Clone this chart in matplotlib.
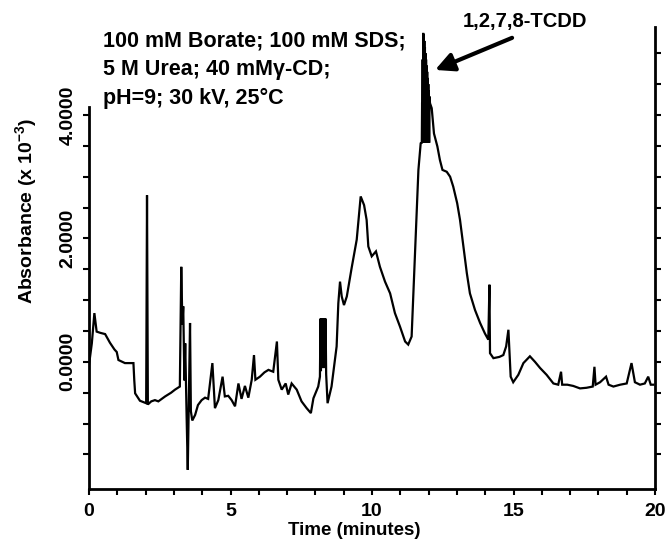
import numpy as np
import matplotlib
matplotlib.use("Agg")
import matplotlib.pyplot as plt

matplotlib.rc('font', family='Liberation Sans', weight='bold')
matplotlib.rcParams.update({'mathtext.fontset': 'custom',
                            'mathtext.bf': 'Liberation Sans:bold',
                            'mathtext.rm': 'Liberation Sans:bold',
                            'mathtext.default': 'bf'})

# electropherogram trace (time in min, absorbance x 1e-3)
time = [0.00, 0.10, 0.19, 0.27, 0.40, 0.57, 0.74, 0.90, 0.98, 1.04,
        1.27, 1.57, 1.60, 1.63, 1.80, 2.02, 2.05, 2.08, 2.20, 2.33,
        2.45, 2.69, 2.90, 3.04, 3.21, 3.26, 3.30, 3.33, 3.37, 3.40,
        3.45, 3.49, 3.53, 3.57, 3.60, 3.65, 3.75, 3.85, 3.98, 4.10,
        4.21, 4.36, 4.45, 4.57, 4.72, 4.80, 4.92, 5.04, 5.16, 5.28,
        5.39, 5.51, 5.63, 5.75, 5.83, 5.88, 6.04, 6.20, 6.34, 6.51,
        6.64, 6.69, 6.81, 6.95, 7.04, 7.16, 7.34, 7.51, 7.69, 7.84,
        7.93, 8.10, 8.16,
        8.180, 8.195, 8.210, 8.225, 8.240, 8.255, 8.270, 8.285, 8.300,
        8.315, 8.330, 8.345, 8.360, 8.380,
        8.43, 8.57, 8.75, 8.81, 8.87, 8.93, 9.01, 9.11, 9.28,
        9.46, 9.60, 9.72, 9.81, 9.87, 9.99, 10.14, 10.28, 10.46, 10.64,
        10.81, 10.99, 11.17, 11.28, 11.40, 11.52, 11.64, 11.72,
        11.76, 11.77, 11.78, 11.79, 11.80, 11.81, 11.82, 11.83, 11.84,
        11.85, 11.86, 11.87, 11.88, 11.89, 11.90, 11.91, 11.92, 11.93,
        11.94, 11.95, 11.96, 11.97, 11.98, 11.99, 12.00, 12.01, 12.02,
        12.03, 12.05, 12.11, 12.19, 12.31, 12.40,
        12.49, 12.64, 12.76, 12.87, 13.01, 13.11, 13.23, 13.35, 13.46,
        13.64, 13.82, 13.99, 14.11, 14.15, 14.17, 14.29, 14.50, 14.64,
        14.74, 14.82, 14.90, 14.99, 15.17, 15.35, 15.58, 15.76, 15.94,
        16.17, 16.41, 16.58, 16.68, 16.72, 16.90, 17.11, 17.35, 17.58,
        17.80, 17.86, 17.90, 18.06, 18.27, 18.36, 18.53, 18.77, 19.00,
        19.17, 19.29, 19.47, 19.64, 19.76, 19.85, 19.94]

absorbance = [-0.05, 0.30, 0.79, 0.49, 0.47, 0.45, 0.31, 0.20, 0.16, 0.03,
              -0.02, -0.02, -0.30, -0.51, -0.63, -0.67, 2.70, -0.69, -0.64, -0.62,
              -0.64, -0.56, -0.50, -0.45, -0.40, 1.54, 0.60, 0.90, -0.30, 0.30,
              -0.90, -1.75, -0.60, 0.63, -0.80, -0.95, -0.86, -0.70, -0.62, -0.58,
              -0.60, -0.02, -0.75, -0.62, -0.24, -0.56, -0.55, -0.62, -0.72, -0.35,
              -0.60, -0.39, -0.58, -0.29, 0.11, -0.29, -0.24, -0.17, -0.13, -0.16,
              0.33, -0.29, -0.45, -0.35, -0.53, -0.35, -0.45, -0.64, -0.75, -0.83,
              -0.59, -0.40, -0.24,
              0.70, -0.15, 0.71, -0.10, 0.71, -0.10, 0.71, -0.10, 0.71,
              -0.10, 0.71, -0.10, 0.70, -0.20,
              -0.67, -0.40, 0.25, 0.95, 1.30, 1.06, 0.92, 1.06, 1.52,
              1.98, 2.68, 2.54, 2.30, 1.87, 1.71, 1.79, 1.54, 1.30, 1.11,
              0.79, 0.57, 0.33, 0.28, 0.41, 1.76, 3.11, 3.54,
              3.55, 4.20, 3.55, 4.90, 3.55, 5.33, 3.55, 5.30, 3.55,
              5.20, 3.55, 5.10, 3.55, 5.00, 3.55, 4.90, 3.55, 4.80,
              3.55, 4.70, 3.55, 4.60, 3.55, 4.50, 3.55, 4.40, 3.55,
              4.30, 4.19, 4.11, 3.70, 3.49, 3.27,
              3.11, 3.08, 3.00, 2.84, 2.57, 2.30, 1.87, 1.44, 1.11,
              0.84, 0.63, 0.46, 0.36, 1.25, 0.14, 0.06, 0.08, 0.11,
              0.25, 0.52, -0.24, -0.33, -0.21, -0.02, 0.09, 0.00, -0.10,
              -0.21, -0.35, -0.37, -0.16, -0.37, -0.37, -0.39, -0.43, -0.42,
              -0.40, -0.08, -0.37, -0.33, -0.24, -0.37, -0.40, -0.37, -0.35,
              -0.02, -0.33, -0.37, -0.35, -0.24, -0.37, -0.37]

x_major = [0, 5, 10, 15, 20]
y_labelled = [0.0, 2.0, 4.0]
y_labels = ["0.0000", "2.0000", "4.0000"]

conditions = "100 mM Borate; 100 mM SDS;\n5 M Urea; 40 mM\u03b3-CD;\npH=9; 30 kV, 25\u00b0C"

W, H = 667, 542
fig = plt.figure(figsize=(W / 100.0, H / 100.0), dpi=100)
ax = fig.add_axes([89.0 / W, 1 - 489.0 / H, (655.0 - 89.0) / W, (489.0 - 22.4) / H])

ax.plot(time, absorbance, color="black", lw=1.6, solid_joinstyle="miter")

ax.set_xlim(0, 20)
ax.set_ylim(-2.06, 5.5)

ax.spines['top'].set_visible(False)
ax.spines['right'].set_visible(False)
for s in ['left', 'bottom']:
    ax.spines[s].set_linewidth(2.0)
ax.spines['left'].set_bounds(-2.06, 4.13)

ax.set_xticks(x_major)
ax.set_xticklabels([str(v) for v in x_major])
ax.set_xticks(np.arange(0, 21, 1), minor=True)
yt = np.arange(-1.5, 4.01, 0.5)
ax.set_yticks(yt)
ax.set_yticklabels([y_labels[y_labelled.index(v)] if v in y_labelled else "" for v in yt])
for lab in ax.get_yticklabels():
    lab.set_rotation(90)
    lab.set_va("center")

ax.tick_params(axis='both', which='both', direction='out', width=1.5, length=4,
               labelsize=14)
ax.tick_params(axis='x', pad=6)
ax.tick_params(axis='y', pad=5)

# right-hand frame runs higher than the left one
axr = ax.twinx()
axr.set_ylim(ax.get_ylim())
for s in ['left', 'top', 'bottom']:
    axr.spines[s].set_visible(False)
axr.spines['right'].set_linewidth(2.0)
axr.spines['right'].set_bounds(-2.06, 5.42)
axr.set_yticks(np.arange(-1.5, 5.01, 0.5))
axr.set_yticklabels([])
axr.tick_params(axis='y', direction='out', width=1.5, length=4)

fig.text(26.0 / W, 1 - 211.0 / H, r"Absorbance (x 10$^{-3}$)", rotation=90,
         ha="center", va="center", fontsize=14)
fig.text(354.0 / W, 1 - 522.0 / H, "Time (minutes)", ha="center", va="top",
         fontsize=13.5)

fig.text(103.0 / W, 1 - 31.0 / H, conditions, ha="left", va="top",
         fontsize=15.5, linespacing=1.45)

fig.text(525.0 / W, 1 - 22.0 / H, "1,2,7,8-TCDD", ha="center", va="center",
         fontsize=14.5)
ax.annotate("", xy=(12.23, 4.73), xytext=(14.95, 5.25),
            arrowprops=dict(arrowstyle="-|>", lw=3, color="black",
                            mutation_scale=28, shrinkA=0, shrinkB=0),
            annotation_clip=False)

fig.savefig("out.png", dpi=100)
plt.close()
